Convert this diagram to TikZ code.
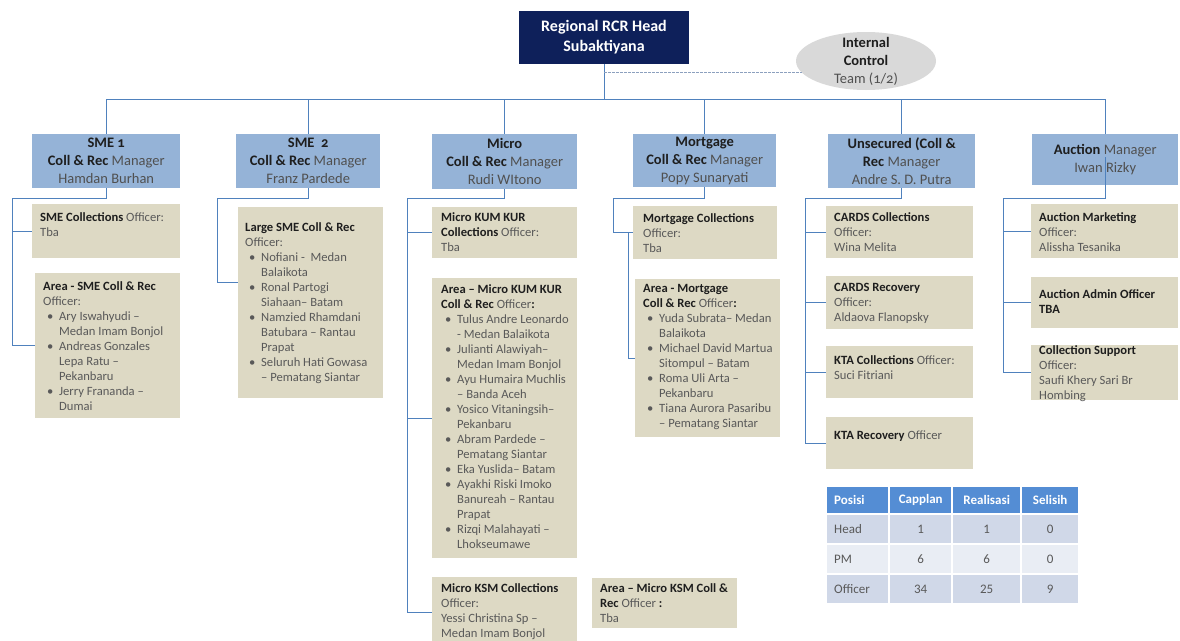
\documentclass[tikz,border=0pt]{standalone}
\usepackage{fontspec}
\setmainfont{Carlito}
\usetikzlibrary{shapes.geometric}

\definecolor{headfill}{RGB}{14,32,90}
\definecolor{mgrfill}{RGB}{149,179,215}
\definecolor{offfill}{RGB}{221,217,196}
\definecolor{ictfill}{RGB}{217,217,217}
\definecolor{linecol}{RGB}{79,129,189}
\definecolor{dashcol}{RGB}{140,160,190}
\definecolor{boldtext}{RGB}{30,30,30}
\definecolor{greytext}{RGB}{80,80,80}
\definecolor{offgrey}{RGB}{89,89,89}
\definecolor{hdrfill}{RGB}{84,141,212}
\definecolor{rowa}{RGB}{208,216,232}
\definecolor{rowb}{RGB}{233,237,244}

\newcommand{\Bf}[1]{\textbf{\textcolor{boldtext}{#1}}}
\newcommand{\Bul}{\makebox[16pt][l]{\hspace{4pt}\textbullet}}
\newcommand{\Ind}{\hspace*{16pt}}
\newcommand{\Old}[1]{{\addfontfeatures{Numbers=OldStyle}#1}}

\tikzset{
  conn/.style={draw=linecol, line width=0.9pt},
  ictline/.style={draw=dashcol, line width=0.9pt, dash pattern=on 2.5pt off 1.5pt},
  headbox/.style={fill=headfill, text=white, font=\fontsize{16}{20}\selectfont\bfseries,
    minimum width=170pt, minimum height=53pt, inner sep=0pt, align=center},
  ictell/.style={ellipse, fill=ictfill, minimum width=140pt, minimum height=58pt, inner sep=0pt},
  icttext/.style={inner sep=0pt, align=center, text=greytext, font=\fontsize{14.5}{18}\selectfont},
  mgrbox/.style={anchor=north west, fill=mgrfill, inner sep=0pt, align=center,
    text=greytext, font=\fontsize{14.5}{18}\selectfont},
  offbox/.style={anchor=north west, fill=offfill, inner sep=0pt},
  offtext/.style={anchor=north west, inner sep=0pt, align=left, text=offgrey,
    font=\fontsize{12.6}{15}\selectfont},
  thcell/.style={anchor=north west, fill=hdrfill, text=white, inner xsep=7pt, inner ysep=0pt,
    minimum height=26pt, font=\fontsize{13}{15}\selectfont\bfseries},
  tdcell/.style={anchor=north west, inner xsep=7pt, inner ysep=0pt, minimum height=28pt,
    text=offgrey, font=\fontsize{13}{15}\selectfont}
}

\begin{document}
\begin{tikzpicture}[x=1pt,y=-1pt]
  \fill[white] (0,0) rectangle (1180,640);
  \useasboundingbox (0,0) rectangle (1180,640);

  % head and internal control
  \node[headbox] (head) at (604,37.5) {Regional RCR Head\\Subaktiyana};
  \node[ictell] (ict) at (866,61) {};
  \node[icttext] (ict-t) at (ict.center) {\Bf{Internal}\\\Bf{Control}\\Team \Old{(1/2)}};

  % managers
  \node[mgrbox, minimum width=148pt, minimum height=54pt] (sme1) at (32,134)
    {\Bf{SME \Old{1}}\\\Bf{Coll \& Rec} Manager\\Hamdan Burhan};
  \node[mgrbox, minimum width=144pt, minimum height=54pt] (sme2) at (236,134)
    {\Bf{SME \ \Old{2}}\\\Bf{Coll \& Rec} Manager\\Franz Pardede};
  \node[mgrbox, minimum width=145pt, minimum height=55pt] (micro) at (432,134)
    {\Bf{Micro}\\\Bf{Coll \& Rec} Manager\\Rudi WItono};
  \node[mgrbox, minimum width=143pt, minimum height=53pt] (mortg) at (633,134)
    {\Bf{Mortgage}\\\Bf{Coll \& Rec} Manager\\Popy Sunaryati};
  \node[mgrbox, minimum width=147pt, minimum height=54pt] (unsec) at (828,134)
    {\Bf{Unsecured (Coll \&}\\\Bf{Rec} Manager\\Andre S. D. Putra};
  \node[mgrbox, minimum width=146pt, minimum height=51pt] (auction) at (1032,134)
    {\Bf{Auction} Manager\\Iwan Rizky};

  % SME 1 officers
  \node[offbox, minimum width=148pt, minimum height=54pt] (smecoll) at (32,204) {};
  \node[offtext] (smecoll-t) at ([shift={(8,8)}]smecoll.north west)
    {\Bf{SME Collections} Officer:\\Tba};
  \node[offbox, minimum width=145pt, minimum height=145pt] (areasme) at (35,273) {};
  \node[offtext] (areasme-t) at ([shift={(8,8)}]areasme.north west)
    {\Bf{Area - SME Coll \& Rec}\\Officer:\\\Bul Ary Iswahyudi –\\\Ind Medan Imam Bonjol\\
     \Bul Andreas Gonzales\\\Ind Lepa Ratu –\\\Ind Pekanbaru\\\Bul Jerry Frananda –\\\Ind Dumai};

  % SME 2 officers
  \node[offbox, minimum width=145pt, minimum height=191pt] (largesme) at (238,207) {};
  \node[offtext] (largesme-t) at ([shift={(7,15)}]largesme.north west)
    {\Bf{Large SME Coll \& Rec}\\Officer:\\\Bul Nofiani -\ \ Medan\\\Ind Balaikota\\
     \Bul Ronal Partogi\\\Ind Siahaan– Batam\\\Bul Namzied Rhamdani\\\Ind Batubara – Rantau\\
     \Ind Prapat\\\Bul Seluruh Hati Gowasa\\\Ind – Pematang Siantar};

  % Micro officers
  \node[offbox, minimum width=145pt, minimum height=51pt] (kumkur) at (432,207) {};
  \node[offtext] (kumkur-t) at ([shift={(9,5)}]kumkur.north west)
    {\Bf{Micro KUM KUR}\\\Bf{Collections} Officer:\\Tba};
  \node[offbox, minimum width=145pt, minimum height=280pt] (areakum) at (432,278) {};
  \node[offtext] (areakum-t) at ([shift={(9,6)}]areakum.north west)
    {\Bf{Area – Micro KUM KUR}\\\Bf{Coll \& Rec} Officer\Bf{:}\\
     \Bul Tulus Andre Leonardo\\\Ind - Medan Balaikota\\\Bul Julianti Alawiyah–\\\Ind Medan Imam Bonjol\\
     \Bul Ayu Humaira Muchlis\\\Ind – Banda Aceh\\\Bul Yosico Vitaningsih–\\\Ind Pekanbaru\\
     \Bul Abram Pardede –\\\Ind Pematang Siantar\\\Bul Eka Yuslida– Batam\\
     \Bul Ayakhi Riski Imoko\\\Ind Banureah – Rantau\\\Ind Prapat\\
     \Bul Rizqi Malahayati –\\\Ind Lhokseumawe};
  \node[offbox, minimum width=145pt, minimum height=70pt] (ksm) at (432,577) {};
  \node[offtext] (ksm-t) at ([shift={(9,6)}]ksm.north west)
    {\Bf{Micro KSM Collections}\\Officer:\\Yessi Christina Sp –\\Medan Imam Bonjol};
  \node[offbox, minimum width=145pt, minimum height=50pt] (areaksm) at (592,578) {};
  \node[offtext] (areaksm-t) at ([shift={(8,5)}]areaksm.north west)
    {\Bf{Area – Micro KSM Coll \&}\\\Bf{Rec} Officer \Bf{:}\\Tba};

  % Mortgage officers
  \node[offbox, minimum width=144pt, minimum height=53pt] (mortcoll) at (633,206) {};
  \node[offtext] (mortcoll-t) at ([shift={(10,7)}]mortcoll.north west)
    {\Bf{Mortgage Collections}\\Officer:\\Tba};
  \node[offbox, minimum width=145pt, minimum height=158pt] (areamort) at (635,279) {};
  \node[offtext] (areamort-t) at ([shift={(8,5)}]areamort.north west)
    {\Bf{Area - Mortgage}\\\Bf{Coll \& Rec} Officer\Bf{:}\\
     \Bul Yuda Subrata– Medan\\\Ind Balaikota\\\Bul Michael David Martua\\\Ind Sitompul – Batam\\
     \Bul Roma Uli Arta –\\\Ind Pekanbaru\\\Bul Tiana Aurora Pasaribu\\\Ind – Pematang Siantar};

  % Unsecured officers
  \node[offbox, minimum width=147pt, minimum height=52pt] (cardscoll) at (826,206) {};
  \node[offtext] (cardscoll-t) at ([shift={(8,6)}]cardscoll.north west)
    {\Bf{CARDS Collections}\\Officer:\\Wina Melita};
  \node[offbox, minimum width=147pt, minimum height=53pt] (cardsrec) at (826,276) {};
  \node[offtext] (cardsrec-t) at ([shift={(8,7)}]cardsrec.north west)
    {\Bf{CARDS Recovery}\\Officer:\\Aldaova Flanopsky};
  \node[offbox, minimum width=147pt, minimum height=52pt] (ktacoll) at (826,346) {};
  \node[offtext] (ktacoll-t) at ([shift={(8,9)}]ktacoll.north west)
    {\Bf{KTA Collections} Officer:\\Suci Fitriani};
  \node[offbox, minimum width=147pt, minimum height=52pt] (ktarec) at (826,417) {};
  \node[offtext] (ktarec-t) at ([shift={(8,14)}]ktarec.north west)
    {\Bf{KTA Recovery} Officer};

  % Auction officers
  \node[offbox, minimum width=147pt, minimum height=54pt] (auctmkt) at (1031,204) {};
  \node[offtext] (auctmkt-t) at ([shift={(8,8)}]auctmkt.north west)
    {\Bf{Auction Marketing}\\Officer:\\Alissha Tesanika};
  \node[offbox, minimum width=147pt, minimum height=51pt] (auctadm) at (1031,277) {};
  \node[offtext] (auctadm-t) at ([shift={(8,12)}]auctadm.north west)
    {\Bf{Auction Admin Officer}\\\Bf{TBA}};
  \node[offbox, minimum width=147pt, minimum height=55pt] (collsup) at (1031,345) {};
  \node[offtext] (collsup-t) at ([shift={(8,0)}]collsup.north west)
    {\Bf{Collection Support}\\Officer:\\Saufi Khery Sari Br\\Hombing};

  % table
  \node[thcell, text width=47pt, align=left] (th-pos) at (827,487) {Posisi};
  \node[thcell, minimum width=61pt] (th-cap) at (890,487) {Capplan};
  \node[thcell, minimum width=67pt] (th-real) at (953,487) {Realisasi};
  \node[thcell, minimum width=56pt] (th-sel) at (1022,487) {Selisih};
  \foreach \rw/\yy/\fc/\ca/\cb/\cc/\cd in {head/515/rowa/Head/1/1/0,
      pm/545/rowb/PM/6/6/0, off/575/rowa/Officer/34/25/9}{
    \node[tdcell, fill=\fc, text width=47pt, align=left] (\rw-pos) at (827,\yy) {\ca};
    \node[tdcell, fill=\fc, minimum width=61pt] (\rw-cap) at (890,\yy) {\cb};
    \node[tdcell, fill=\fc, minimum width=67pt] (\rw-real) at (953,\yy) {\cc};
    \node[tdcell, fill=\fc, minimum width=56pt] (\rw-sel) at (1022,\yy) {\cd};
  }

  % connectors
  \coordinate (bus) at (604,99);
  \coordinate (ictjoin) at (604,72);
  \draw[conn] (head.south) -- (bus);
  \foreach \m in {sme1,sme2,micro,mortg,unsec,auction}
    \draw[conn] (bus) -| (\m.north);
  \draw[ictline] (ictjoin) -- ([xshift=6pt]ictjoin -| ict.west);

  \coordinate (sme1spine) at (12,198);
  \draw[conn] (sme1.south) |- (sme1spine) |- (smecoll.west);
  \draw[conn] (sme1spine) |- (areasme.west);

  \coordinate (sme2spine) at (217,198);
  \draw[conn] (sme2.south) |- (sme2spine) |- ([yshift=20pt]largesme.west);

  \coordinate (microspine) at (407,198);
  \draw[conn] (micro.south) |- (microspine) |- (kumkur.west);
  \draw[conn] (microspine) |- (areakum.west);
  \draw[conn] (microspine) |- (ksm.west);

  \coordinate (mortspine) at (613,198);
  \draw[conn] (mortg.south) |- (mortspine) |- (mortcoll.west);
  \draw[conn] ([xshift=-5pt]mortcoll.west) |- (areamort.west);

  \coordinate (unsecspine) at (805,198);
  \draw[conn] (unsec.south) |- (unsecspine) |- (cardscoll.west);
  \draw[conn] (unsecspine) |- (cardsrec.west);
  \draw[conn] (unsecspine) |- (ktacoll.west);
  \draw[conn] (unsecspine) |- (ktarec.west);

  \coordinate (auctspine) at (1003,198);
  \draw[conn] ([yshift=28pt]auction.south) |- (auctspine) |- (auctmkt.west);
  \draw[conn] (auctspine) |- (auctadm.west);
  \draw[conn] (auctspine) |- (collsup.west);
\end{tikzpicture}
\end{document}
